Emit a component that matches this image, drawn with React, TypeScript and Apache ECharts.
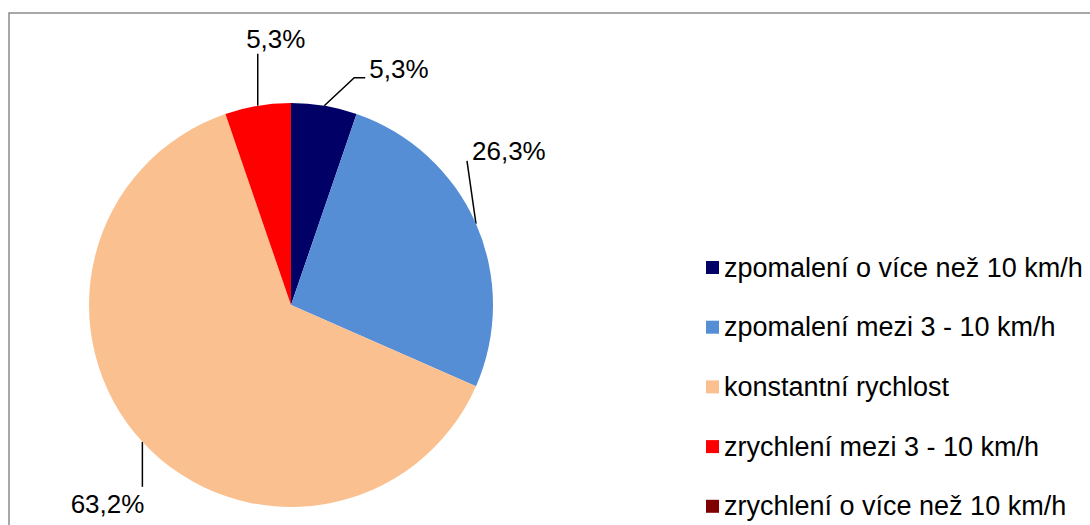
import React, { useEffect, useRef } from "react";
import * as echarts from "echarts";

const categories = [
  "zpomalení o více než 10 km/h",
  "zpomalení mezi 3 - 10 km/h",
  "konstantní rychlost",
  "zrychlení mezi 3 - 10 km/h",
  "zrychlení o více než 10 km/h",
];
const counts = [1, 5, 12, 1, 0];
const colors = ["#000066", "#558ED5", "#FAC090", "#FF0000", "#7F0000"];

// label placement relative to the slice edge point (layout styling only)
const labelOffsets: { dx: number; dy: number; align: string; line: number[][] }[] = [
  { dx: 45, dy: -37, align: "left", line: [[30, -28], [41, -28]] },
  { dx: -4, dy: -73, align: "left", line: [[-9, -63]] },
  { dx: 2, dy: 62, align: "right", line: [[0, 45]] },
  { dx: 18, dy: -67, align: "center", line: [[0, -52]] },
  { dx: 0, dy: 0, align: "center", line: [] },
];

const FONT = "'Liberation Sans', Arial, sans-serif";

export default function App() {
  const ref = useRef<HTMLDivElement>(null);
  useEffect(() => {
    document.body.style.margin = "0";
    if (!ref.current) return;
    const chart = echarts.init(ref.current, undefined, { renderer: "svg" });
    chart.setOption({
      animation: false,
      backgroundColor: "#ffffff",
      textStyle: { fontFamily: FONT },
      graphic: [
        {
          type: "rect",
          shape: { x: 9, y: 13, width: 1100, height: 600 },
          style: { fill: "none", stroke: "#8c8c8c", lineWidth: 1.5 },
          silent: true,
          z: -1,
        },
      ],
      legend: {
        orient: "vertical",
        left: 706,
        top: 254,
        padding: 0,
        icon: "rect",
        itemWidth: 13,
        itemHeight: 13,
        itemGap: 32.7,
        selectedMode: false,
        data: categories,
        textStyle: {
          fontFamily: FONT,
          fontSize: 27,
          lineHeight: 26,
          color: "#000",
        },
      },
      series: [
        {
          type: "pie",
          center: [291, 305],
          radius: 202,
          startAngle: 90,
          clockwise: true,
          avoidLabelOverlap: false,
          label: {
            show: true,
            position: "outside",
            fontFamily: FONT,
            fontSize: 26,
            color: "#000",
            formatter: (p: any) => p.percent.toFixed(1).replace(".", ",") + "%",
          },
          labelLine: {
            show: true,
            length: 30,
            length2: 10,
            lineStyle: { color: "#000", width: 1.5 },
          },
          labelLayout: (params: any) => {
            const pts = params.labelLinePoints;
            const o = labelOffsets[params.dataIndex];
            if (!pts || !o) return {};
            const e = pts[0];
            const line = [[e[0], e[1]]].concat(
              o.line.map((q) => [e[0] + q[0], e[1] + q[1]])
            );
            return {
              x: e[0] + o.dx,
              y: e[1] + o.dy,
              align: o.align,
              verticalAlign: "middle",
              labelLinePoints: line,
            };
          },
          data: categories.map((name, i) => ({
            name,
            value: counts[i],
            itemStyle: { color: colors[i] },
            ...(counts[i] === 0
              ? { label: { show: false }, labelLine: { show: false } }
              : {}),
          })),
        },
      ],
    });
    return () => chart.dispose();
  }, []);
  return <div ref={ref} style={{ width: 1090, height: 525 }} />;
}
